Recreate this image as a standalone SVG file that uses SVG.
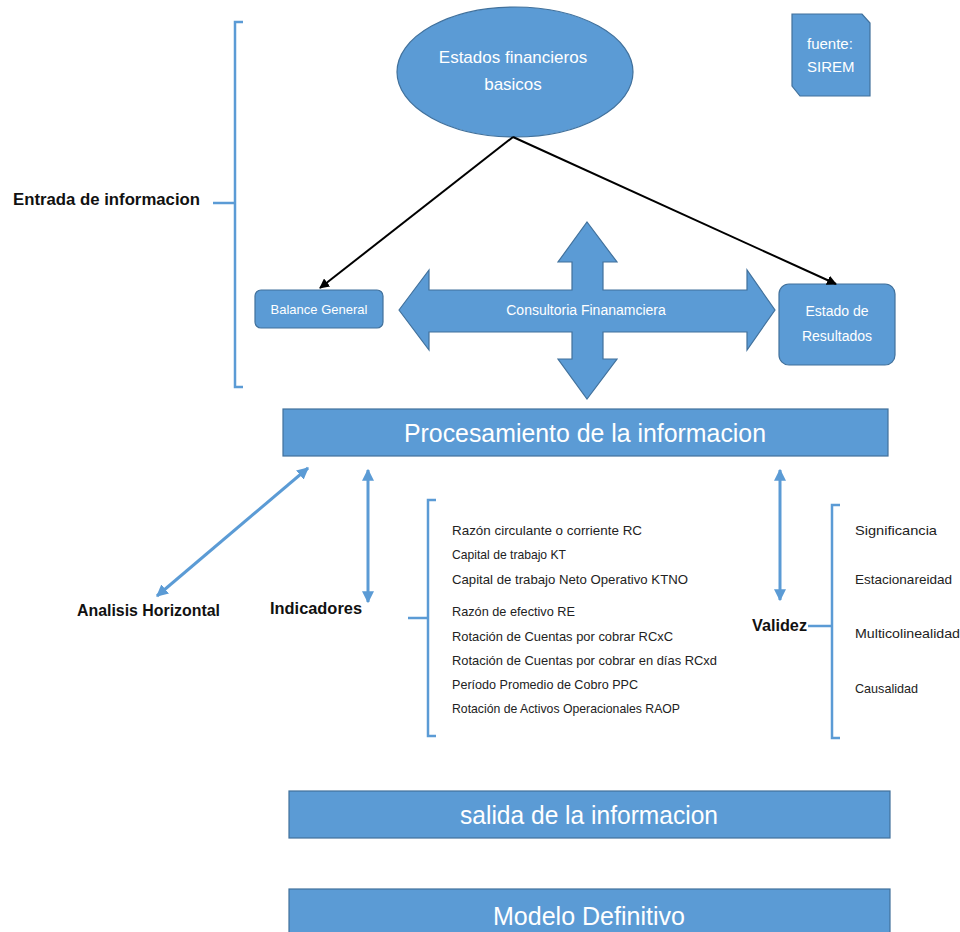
<svg xmlns="http://www.w3.org/2000/svg" width="960" height="932" viewBox="0 0 960 932">
<style>
.shape{fill:#5b9bd5;stroke:#41719c;stroke-width:1.2}
.wt{fill:#ffffff;font-family:"Liberation Sans",Arial,sans-serif}
.bt{fill:#111111;font-family:"Liberation Sans",Arial,sans-serif;font-weight:bold;font-size:16px}
.lt{fill:#222222;font-family:"Liberation Sans",Arial,sans-serif;font-size:13.5px}
.br{fill:none;stroke:#5b9bd5;stroke-width:2.5}
.blk{fill:none;stroke:#000000;stroke-width:2}
.blu{fill:none;stroke:#5b9bd5;stroke-width:3}
</style>
<defs>
<marker id="ahB" viewBox="0 0 10 10" refX="9" refY="5" markerWidth="5" markerHeight="5" orient="auto-start-reverse">
<path d="M0,0 L10,5 L0,10 Z" fill="#000000"/>
</marker>
<marker id="ahL" viewBox="0 0 10 10" refX="9" refY="5" markerWidth="4" markerHeight="4" orient="auto-start-reverse">
<path d="M0,0 L10,5 L0,10 Z" fill="#5b9bd5"/>
</marker>
</defs>
<rect width="960" height="932" fill="#ffffff"/>

<g id="entrada">
<path class="br" d="M243,22 L235,22 L235,387 L243,387 M213,203 L235,203"/>
<text class="bt" x="13" y="205" textLength="187" lengthAdjust="spacingAndGlyphs">Entrada de informacion</text>
</g>

<g id="estados">
<ellipse class="shape" cx="515" cy="72" rx="118" ry="65"/>
<text class="wt" x="513" y="63" font-size="17" text-anchor="middle">Estados financieros</text>
<text class="wt" x="513" y="90" font-size="17" text-anchor="middle">basicos</text>
</g>

<g id="fuente">
<polygon class="shape" points="792,14 862,14 870,23 870,96 800,96 792,86"/>
<text class="wt" x="807" y="49" font-size="15">fuente:</text>
<text class="wt" x="807" y="72" font-size="15">SIREM</text>
</g>

<g id="balance">
<rect class="shape" x="255" y="290" width="128" height="38" rx="6"/>
<text class="wt" x="319" y="314" font-size="13" text-anchor="middle">Balance General</text>
</g>

<g id="resultados">
<rect class="shape" x="779" y="284" width="116" height="81" rx="10"/>
<text class="wt" x="837" y="316" font-size="14" text-anchor="middle">Estado de</text>
<text class="wt" x="837" y="341" font-size="14" text-anchor="middle">Resultados</text>
</g>

<g id="consultoria">
<polygon class="shape" points="399,310 429,270 429,290 572,290 572,262 558,262 587,222 617,262 603,262 603,290 747,290 747,270 775,310 747,350 747,332 603,332 603,359 617,359 587,399 558,359 572,359 572,332 429,332 429,350"/>
<text class="wt" x="586" y="315" font-size="14" text-anchor="middle">Consultoria Finanamciera</text>
</g>

<g id="procesamiento">
<rect class="shape" x="283" y="409" width="605" height="47"/>
<text class="wt" x="585" y="442" font-size="26" text-anchor="middle" textLength="362" lengthAdjust="spacingAndGlyphs">Procesamiento de la informacion</text>
</g>

<g id="analisis">
<text class="bt" x="77" y="616" textLength="143" lengthAdjust="spacingAndGlyphs">Analisis Horizontal</text>
</g>

<g id="indicadores">
<text class="bt" x="270" y="614" textLength="92" lengthAdjust="spacingAndGlyphs">Indicadores</text>
</g>

<g id="lista-indicadores">
<path class="br" d="M436,500 L428,500 L428,736 L436,736 M408,618 L428,618"/>
<text class="lt" x="452" y="535" textLength="190" lengthAdjust="spacingAndGlyphs">Razón circulante o corriente RC</text>
<text class="lt" x="452" y="559" textLength="114" lengthAdjust="spacingAndGlyphs">Capital de trabajo KT</text>
<text class="lt" x="452" y="584" textLength="236" lengthAdjust="spacingAndGlyphs">Capital de trabajo Neto Operativo KTNO</text>
<text class="lt" x="452" y="616" textLength="123" lengthAdjust="spacingAndGlyphs">Razón de efectivo RE</text>
<text class="lt" x="452" y="641" textLength="221" lengthAdjust="spacingAndGlyphs">Rotación de Cuentas por cobrar RCxC</text>
<text class="lt" x="452" y="665" textLength="265" lengthAdjust="spacingAndGlyphs">Rotación de Cuentas por cobrar en días RCxd</text>
<text class="lt" x="452" y="689" textLength="186" lengthAdjust="spacingAndGlyphs">Período Promedio de Cobro PPC</text>
<text class="lt" x="452" y="713" textLength="228" lengthAdjust="spacingAndGlyphs">Rotación de Activos Operacionales RAOP</text>
</g>

<g id="validez">
<text class="bt" x="752" y="631" textLength="55" lengthAdjust="spacingAndGlyphs">Validez</text>
<path class="br" d="M840,505 L832,505 L832,738 L840,738 M808,626 L832,626"/>
<text class="lt" x="855" y="535" textLength="82" lengthAdjust="spacingAndGlyphs">Significancia</text>
<text class="lt" x="855" y="584" textLength="97" lengthAdjust="spacingAndGlyphs">Estacionareidad</text>
<text class="lt" x="855" y="638" textLength="105" lengthAdjust="spacingAndGlyphs">Multicolinealidad</text>
<text class="lt" x="855" y="693" textLength="63" lengthAdjust="spacingAndGlyphs">Causalidad</text>
</g>

<g id="salida">
<rect class="shape" x="289" y="791" width="601" height="47"/>
<text class="wt" x="589" y="824" font-size="26" text-anchor="middle" textLength="258" lengthAdjust="spacingAndGlyphs">salida de la informacion</text>
</g>

<g id="modelo">
<rect class="shape" x="289" y="889" width="601" height="50"/>
<text class="wt" x="589" y="925" font-size="26" text-anchor="middle" textLength="192" lengthAdjust="spacingAndGlyphs">Modelo Definitivo</text>
</g>

<g id="connectors">
<line class="blk" x1="513" y1="137" x2="320" y2="288" marker-end="url(#ahB)"/>
<line class="blk" x1="513" y1="137" x2="836" y2="284" marker-end="url(#ahB)"/>
<line class="blu" x1="308" y1="468" x2="157" y2="596" marker-start="url(#ahL)" marker-end="url(#ahL)"/>
<line class="blu" x1="368" y1="470" x2="368" y2="602" marker-start="url(#ahL)" marker-end="url(#ahL)"/>
<line class="blu" x1="780" y1="470" x2="780" y2="600" marker-start="url(#ahL)" marker-end="url(#ahL)"/>
</g>
</svg>
